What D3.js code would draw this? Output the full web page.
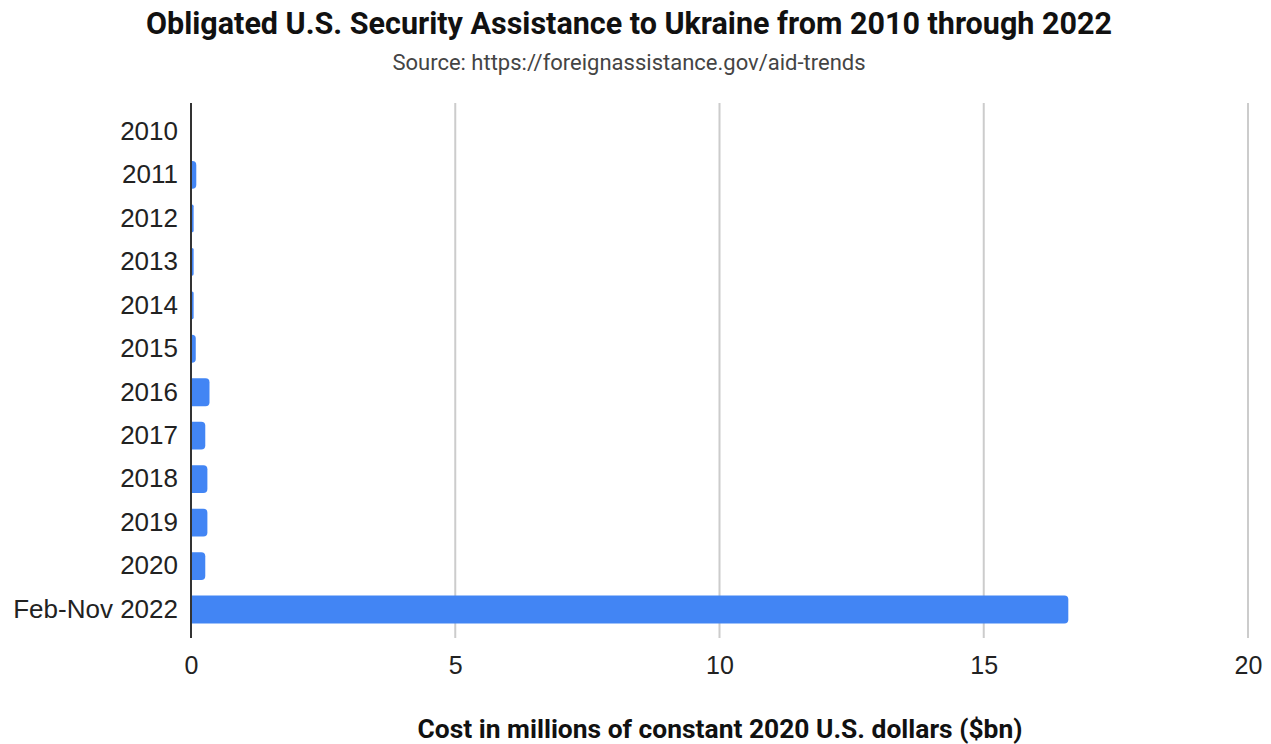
<!DOCTYPE html>
<html>
<head>
<meta charset="utf-8">
<script src="https://cdn.jsdelivr.net/npm/d3@7/dist/d3.min.js"></script>
<style>
  html, body { margin: 0; padding: 0; background: #fff; }
  svg { display: block; }
</style>
</head>
<body>
<svg id="chart" width="1271" height="744"></svg>
<script>
// Obligated security assistance by year, in billions of constant 2020 USD
const categories = ["2010", "2011", "2012", "2013", "2014", "2015", "2016", "2017", "2018", "2019", "2020", "Feb-Nov 2022"];
const values = [0.0, 0.10, 0.05, 0.05, 0.05, 0.09, 0.35, 0.27, 0.31, 0.31, 0.27, 16.6];
const xTicks = [0, 5, 10, 15, 20];

const titleText = "Obligated U.S. Security Assistance to Ukraine from 2010 through 2022";
const subtitleText = "Source: https://foreignassistance.gov/aid-trends";
const xAxisTitle = "Cost in millions of constant 2020 U.S. dollars ($bn)";

const svg = d3.select("#chart");

const plot = { left: 191, right: 1248, top: 103, bottom: 638 };

const x = d3.scaleLinear().domain([0, 20]).range([plot.left, plot.right]);
const y = d3.scaleBand()
  .domain(categories)
  .range([109.75, 631.25])
  .paddingInner(0.36)
  .paddingOuter(0.18);

// Vertical gridlines
svg.append("g")
  .selectAll("line")
  .data(xTicks.filter(d => d !== 0))
  .join("line")
  .attr("x1", d => x(d)).attr("x2", d => x(d))
  .attr("y1", plot.top).attr("y2", plot.bottom)
  .attr("stroke", "#cccccc")
  .attr("stroke-width", 2);

// Bars with rounded right ends
function barPath(x0, x1, y0, h, r) {
  const w = x1 - x0;
  if (w <= 0) return "";
  const rr = Math.min(r, w, h / 2);
  return `M${x0},${y0}H${x1 - rr}Q${x1},${y0} ${x1},${y0 + rr}V${y0 + h - rr}Q${x1},${y0 + h} ${x1 - rr},${y0 + h}H${x0}Z`;
}

svg.append("g")
  .selectAll("path")
  .data(categories.map((c, i) => ({ c, v: values[i] })))
  .join("path")
  .attr("d", d => barPath(x(0) + 1, x(d.v), y(d.c), y.bandwidth(), 4))
  .attr("fill", "#4285f4");

// Baseline at zero
svg.append("line")
  .attr("x1", x(0)).attr("x2", x(0))
  .attr("y1", plot.top).attr("y2", plot.bottom)
  .attr("stroke", "#333333")
  .attr("stroke-width", 2);

// Category labels
const yAxis = d3.axisLeft(y).tickSize(0).tickPadding(13);
const yg = svg.append("g").attr("transform", `translate(${plot.left},0)`).call(yAxis);
yg.select(".domain").remove();
yg.selectAll("text")
  .attr("font-family", "Liberation Sans, Arial, sans-serif")
  .attr("font-size", 26)
  .attr("fill", "#222222");

// Value axis labels
const xAxis = d3.axisBottom(x).tickValues(xTicks).tickSize(0).tickPadding(0).tickFormat(d3.format("d"));
const xg = svg.append("g").attr("transform", `translate(0,${plot.bottom})`).call(xAxis);
xg.select(".domain").remove();
xg.selectAll("text")
  .attr("dy", null)
  .attr("y", 36)
  .attr("font-family", "Liberation Sans, Arial, sans-serif")
  .attr("font-size", 25)
  .attr("fill", "#222222");

// Titles
svg.append("text")
  .attr("x", 629).attr("y", 34)
  .attr("text-anchor", "middle")
  .attr("font-family", "Roboto, sans-serif")
  .attr("font-weight", "bold")
  .attr("font-size", 30.5)
  .attr("fill", "#111111")
  .text(titleText);

svg.append("text")
  .attr("x", 629).attr("y", 70)
  .attr("text-anchor", "middle")
  .attr("font-family", "Roboto, sans-serif")
  .attr("font-size", 22)
  .attr("fill", "#444444")
  .text(subtitleText);

svg.append("text")
  .attr("x", 720).attr("y", 738)
  .attr("text-anchor", "middle")
  .attr("font-family", "Roboto, sans-serif")
  .attr("font-weight", "bold")
  .attr("font-size", 26.4)
  .attr("fill", "#111111")
  .text(xAxisTitle);
</script>
</body>
</html>
